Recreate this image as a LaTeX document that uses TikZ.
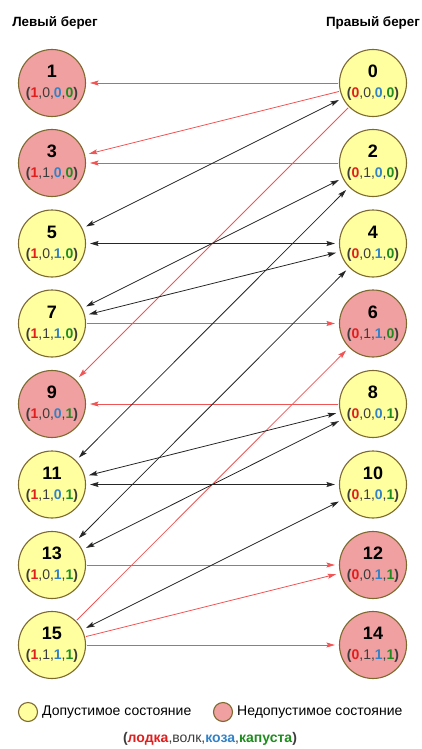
\documentclass[tikz,border=0pt]{standalone}
\usepackage{fontspec}
\setmainfont{Liberation Sans}
\usetikzlibrary{arrows.meta}
\definecolor{okfill}{RGB}{255,255,160}
\definecolor{badfill}{RGB}{240,160,160}
\definecolor{rimcol}{RGB}{125,105,45}
\definecolor{tred}{RGB}{225,30,30}
\definecolor{tblue}{RGB}{50,130,200}
\definecolor{tgreen}{RGB}{30,140,30}
\definecolor{tgray}{RGB}{60,60,60}
\definecolor{linered}{RGB}{240,85,85}
\newcommand{\stlab}[5]{{\fontsize{18}{18}\selectfont\bfseries #1}\\\textcolor{tgray}{\textbf{(}}\textcolor{tred}{\textbf{#2}}\textcolor{tgray}{,#3,}\textcolor{tblue}{\textbf{#4}}\textcolor{tgray}{,}\textcolor{tgreen}{\textbf{#5}}\textcolor{tgray}{\textbf{)}}}
\tikzset{
  stnode/.style={circle, draw=rimcol, line width=1.1pt, minimum size=67pt, inner sep=0pt, align=center, font=\fontsize{14}{20}\selectfont},
  okst/.style={stnode, fill=okfill},
  badst/.style={stnode, fill=badfill},
  tipA/.tip={Stealth[length=8.5pt,width=5pt,inset=1.5pt]},
  redarr/.style={draw=linered, line width=0.8pt, -tipA, shorten >=4pt, shorten <=1pt},
  blkarr/.style={draw=black!85, line width=0.8pt, tipA-tipA, shorten >=4pt, shorten <=4pt},
  title/.style={font=\fontsize{13.4}{15}\selectfont\bfseries, inner sep=0pt},
  legtext/.style={font=\fontsize{14}{16}\selectfont, inner sep=0pt, anchor=west},
  legdot/.style={circle, draw=rimcol, line width=1.1pt, minimum size=19pt, inner sep=0pt},
}
\begin{document}
\begin{tikzpicture}[x=1pt,y=-1pt]
\useasboundingbox (0,0) rectangle (422,749);
\node[title] (tl) at (55,23) {Левый берег};
\node[title] (tr) at (373,23) {Правый берег};
% left bank
\node[badst] (n1) at (52,83) {\stlab{1}{1}{0}{0}{0}};
\node[badst] (n3) at (52,163) {\stlab{3}{1}{1}{0}{0}};
\node[okst] (n5) at (52,243.5) {\stlab{5}{1}{0}{1}{0}};
\node[okst] (n7) at (52,323.5) {\stlab{7}{1}{1}{1}{0}};
\node[badst] (n9) at (52,404) {\stlab{9}{1}{0}{0}{1}};
\node[okst] (n11) at (52,484.5) {\stlab{11}{1}{1}{0}{1}};
\node[okst] (n13) at (52,565) {\stlab{13}{1}{0}{1}{1}};
\node[okst] (n15) at (52,645) {\stlab{15}{1}{1}{1}{1}};
% right bank
\node[okst] (n0) at (373,83) {\stlab{0}{0}{0}{0}{0}};
\node[okst] (n2) at (373,163) {\stlab{2}{0}{1}{0}{0}};
\node[okst] (n4) at (373,243.5) {\stlab{4}{0}{0}{1}{0}};
\node[badst] (n6) at (373,323.5) {\stlab{6}{0}{1}{1}{0}};
\node[okst] (n8) at (373,404) {\stlab{8}{0}{0}{0}{1}};
\node[okst] (n10) at (373,484.5) {\stlab{10}{0}{1}{0}{1}};
\node[badst] (n12) at (373,565) {\stlab{12}{0}{0}{1}{1}};
\node[badst] (n14) at (373,645) {\stlab{14}{0}{1}{1}{1}};
% red transitions
\draw[redarr] (n0) -- (n1);
\draw[redarr] (n0) -- (n3);
\draw[redarr] (n2) -- (n3);
\draw[redarr] (n0) -- (n9);
\draw[redarr] (n7) -- (n6);
\draw[redarr] (n8) -- (n9);
\draw[redarr] (n13) -- (n12);
\draw[redarr] (n15) -- (n6);
\draw[redarr] (n15) -- (n12);
\draw[redarr] (n15) -- (n14);
% black transitions
\draw[blkarr] (n5) -- (n0);
\draw[blkarr] (n5) -- (n4);
\draw[blkarr] (n7) -- (n2);
\draw[blkarr] (n7) -- (n4);
\draw[blkarr] (n11) -- (n2);
\draw[blkarr] (n13) -- (n4);
\draw[blkarr] (n11) -- (n8);
\draw[blkarr] (n11) -- (n10);
\draw[blkarr] (n13) -- (n8);
\draw[blkarr] (n15) -- (n10);
% legend
\node[legdot, fill=okfill] (lg1) at (28,712) {};
\node[legtext] (lt1) at (42,712) {Допустимое состояние};
\node[legdot, fill=badfill] (lg2) at (223,712) {};
\node[legtext] (lt2) at (237,712) {Недопустимое состояние};
\node[font=\fontsize{14}{16}\selectfont, inner sep=0pt] (leg3) at (210,739) {\textcolor{tgray}{\textbf{(}}\textcolor{tred}{\textbf{лодка}}\textcolor{tgray}{,волк,}\textcolor{tblue}{\textbf{коза}}\textcolor{tgray}{,}\textcolor{tgreen}{\textbf{капуста}}\textcolor{tgray}{\textbf{)}}};
\end{tikzpicture}
\end{document}
